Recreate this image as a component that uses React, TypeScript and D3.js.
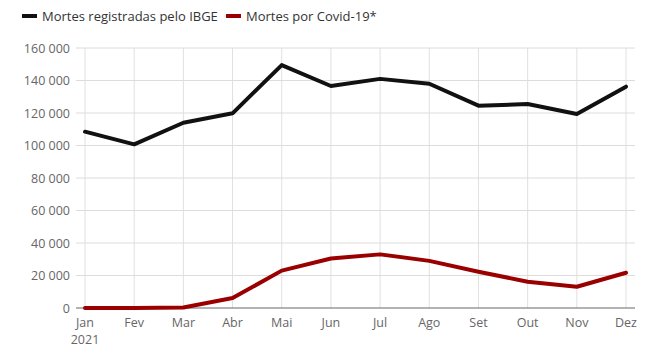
import { useEffect, useRef } from 'react';
import * as d3 from 'd3';

const months = ['Jan', 'Fev', 'Mar', 'Abr', 'Mai', 'Jun', 'Jul', 'Ago', 'Set', 'Out', 'Nov', 'Dez'];
const ibgeDeaths = [108500, 100700, 114000, 119800, 149500, 136600, 141000, 138000, 124500, 125500, 119400, 136200];
const covidDeaths = [0, 0, 300, 6100, 23000, 30500, 33000, 29000, 22300, 16200, 13100, 21700];
const yTicks = [0, 20000, 40000, 60000, 80000, 100000, 120000, 140000, 160000];
const seriesNames = ['Mortes registradas pelo IBGE', 'Mortes por Covid-19*'];
const seriesColors = ['#111111', '#9b0000'];

function App() {
    const svgRef = useRef<SVGSVGElement>(null);

    useEffect(() => {
        const width = 650;
        const height = 360;
        const svg = d3.select(svgRef.current);
        svg.selectAll('*').remove();
        svg.attr('width', width).attr('height', height);

        const font = "'Open Sans', sans-serif";
        const x = d3.scalePoint().domain(months).range([85, 626]);
        const y = d3.scaleLinear().domain([0, 160000]).range([308, 48]);
        const fmt = (v: number) => d3.format(',')(v).replace(/,/g, ' ');

        // vertical grid
        svg.append('g')
            .selectAll('line')
            .data(months)
            .join('line')
            .attr('x1', d => x(d)!)
            .attr('x2', d => x(d)!)
            .attr('y1', 48)
            .attr('y2', 308)
            .attr('stroke', '#e0e0e0');

        // horizontal grid + ticks
        svg.append('g')
            .selectAll('line')
            .data(yTicks.filter(t => t > 0))
            .join('line')
            .attr('x1', 76)
            .attr('x2', 635)
            .attr('y1', d => y(d))
            .attr('y2', d => y(d))
            .attr('stroke', '#dcdcdc');

        svg.append('line')
            .attr('x1', 76).attr('x2', 635)
            .attr('y1', y(0)).attr('y2', y(0))
            .attr('stroke', '#666');

        svg.append('g')
            .selectAll('text')
            .data(yTicks)
            .join('text')
            .attr('x', 70)
            .attr('y', d => y(d) + 4.5)
            .attr('text-anchor', 'end')
            .attr('font-family', font)
            .attr('font-size', 12.5)
            .attr('fill', '#666')
            .text(d => fmt(d));

        svg.append('g')
            .selectAll('text')
            .data(months)
            .join('text')
            .attr('x', d => x(d)!)
            .attr('y', 327)
            .attr('text-anchor', 'middle')
            .attr('font-family', font)
            .attr('font-size', 12.5)
            .attr('fill', '#666')
            .text(d => d);

        svg.append('text')
            .attr('x', x('Jan')!)
            .attr('y', 344)
            .attr('text-anchor', 'middle')
            .attr('font-family', font)
            .attr('font-size', 12.5)
            .attr('fill', '#666')
            .text('2021');

        const line = d3.line<number>()
            .x((_, i) => x(months[i])!)
            .y(d => y(d));

        [ibgeDeaths, covidDeaths].forEach((series, i) => {
            svg.append('path')
                .datum(series)
                .attr('d', line)
                .attr('fill', 'none')
                .attr('stroke', seriesColors[i])
                .attr('stroke-width', 4)
                .attr('stroke-linejoin', 'round')
                .attr('stroke-linecap', 'round');
        });

        // legend
        const legendX = [22, 226];
        seriesNames.forEach((name, i) => {
            svg.append('line')
                .attr('x1', legendX[i]).attr('x2', legendX[i] + 15)
                .attr('y1', 16).attr('y2', 16)
                .attr('stroke', seriesColors[i])
                .attr('stroke-width', 4);
            svg.append('text')
                .attr('x', legendX[i] + 20)
                .attr('y', 20.5)
                .attr('font-family', font)
                .attr('font-size', 13)
                .attr('fill', '#333')
                .text(name);
        });
    }, []);

    return <svg ref={svgRef} style={{ position: 'absolute', left: 0, top: 0 }} />;
}

export default App;
